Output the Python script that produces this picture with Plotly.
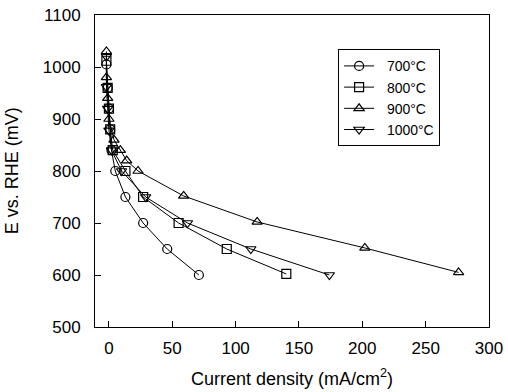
import plotly.graph_objects as go

# Current density (mA/cm2) and potential (mV vs RHE)
x_700 = [-2, -1, 0, 1, 2, 5, 13, 27, 46, 71]
y_700 = [1005, 960, 920, 880, 840, 800, 750, 700, 650, 600]

x_800 = [-2, -1, 0, 1, 3, 13, 27, 55, 93, 140]
y_800 = [1012, 960, 920, 880, 840, 800, 750, 700, 650, 602]

x_900 = [-2, -2, -1, 0, 4, 9, 14, 23, 59, 117, 202, 276]
y_900 = [1030, 980, 940, 900, 860, 840, 820, 800, 752, 702, 652, 605]

x_1000 = [-2, -2, -1, 0, 2, 10, 29, 62, 112, 174]
y_1000 = [1020, 962, 920, 878, 840, 800, 750, 700, 650, 600]

x_title = "Current density (mA/cm<sup>2</sup>)"
y_title = "E vs. RHE (mV)"

series = [
    ("700°C", x_700, y_700, "circle-open"),
    ("800°C", x_800, y_800, "square-open"),
    ("900°C", x_900, y_900, "triangle-up-open"),
    ("1000°C", x_1000, y_1000, "triangle-down-open"),
]

fig = go.Figure()
for name, xs, ys, sym in series:
    fig.add_trace(go.Scatter(
        x=xs, y=ys, name="\u00a0\u00a0" + name, mode="lines+markers",
        line=dict(color="black", width=1),
        marker=dict(symbol=sym, size=9, color="black", line=dict(width=1.2, color="black")),
    ))

fam = "Liberation Sans, Arial, sans-serif"
font = dict(family=fam, size=17, color="black")
fig.update_layout(
    width=508, height=392,
    margin=dict(l=95, r=19, t=15, b=65),
    paper_bgcolor="white", plot_bgcolor="white",
    font=font,
    showlegend=True,
    legend=dict(
        x=0.617, y=0.89, xanchor="left", yanchor="top",
        bordercolor="black", borderwidth=1, bgcolor="white",
        font=dict(family=fam, size=14, color="black"),
        tracegroupgap=0, itemwidth=30,
    ),
    xaxis=dict(
        range=[-11, 300], tickvals=[0, 50, 100, 150, 200, 250, 300],
        ticks="inside", ticklen=6, tickcolor="black",
        ticklabelstandoff=6, automargin=False,
        showline=True, linecolor="black", linewidth=1, mirror=True,
        showgrid=False, zeroline=False,
    ),
    yaxis=dict(
        range=[500, 1100], tickvals=[500, 600, 700, 800, 900, 1000, 1100],
        ticks="inside", ticklen=6, tickcolor="black",
        ticklabelstandoff=10, automargin=False,
        showline=True, linecolor="black", linewidth=1, mirror=True,
        showgrid=False, zeroline=False,
    ),
    annotations=[
        dict(text=x_title, xref="paper", yref="paper", x=0.5, y=-0.163,
             xanchor="center", yanchor="middle", showarrow=False,
             font=dict(family=fam, size=18, color="black")),
        dict(text=y_title, xref="paper", yref="paper", x=-0.21, y=0.5,
             xanchor="center", yanchor="middle", textangle=-90, showarrow=False,
             font=dict(family=fam, size=18, color="black")),
    ],
)

fig.write_html("out.html")
